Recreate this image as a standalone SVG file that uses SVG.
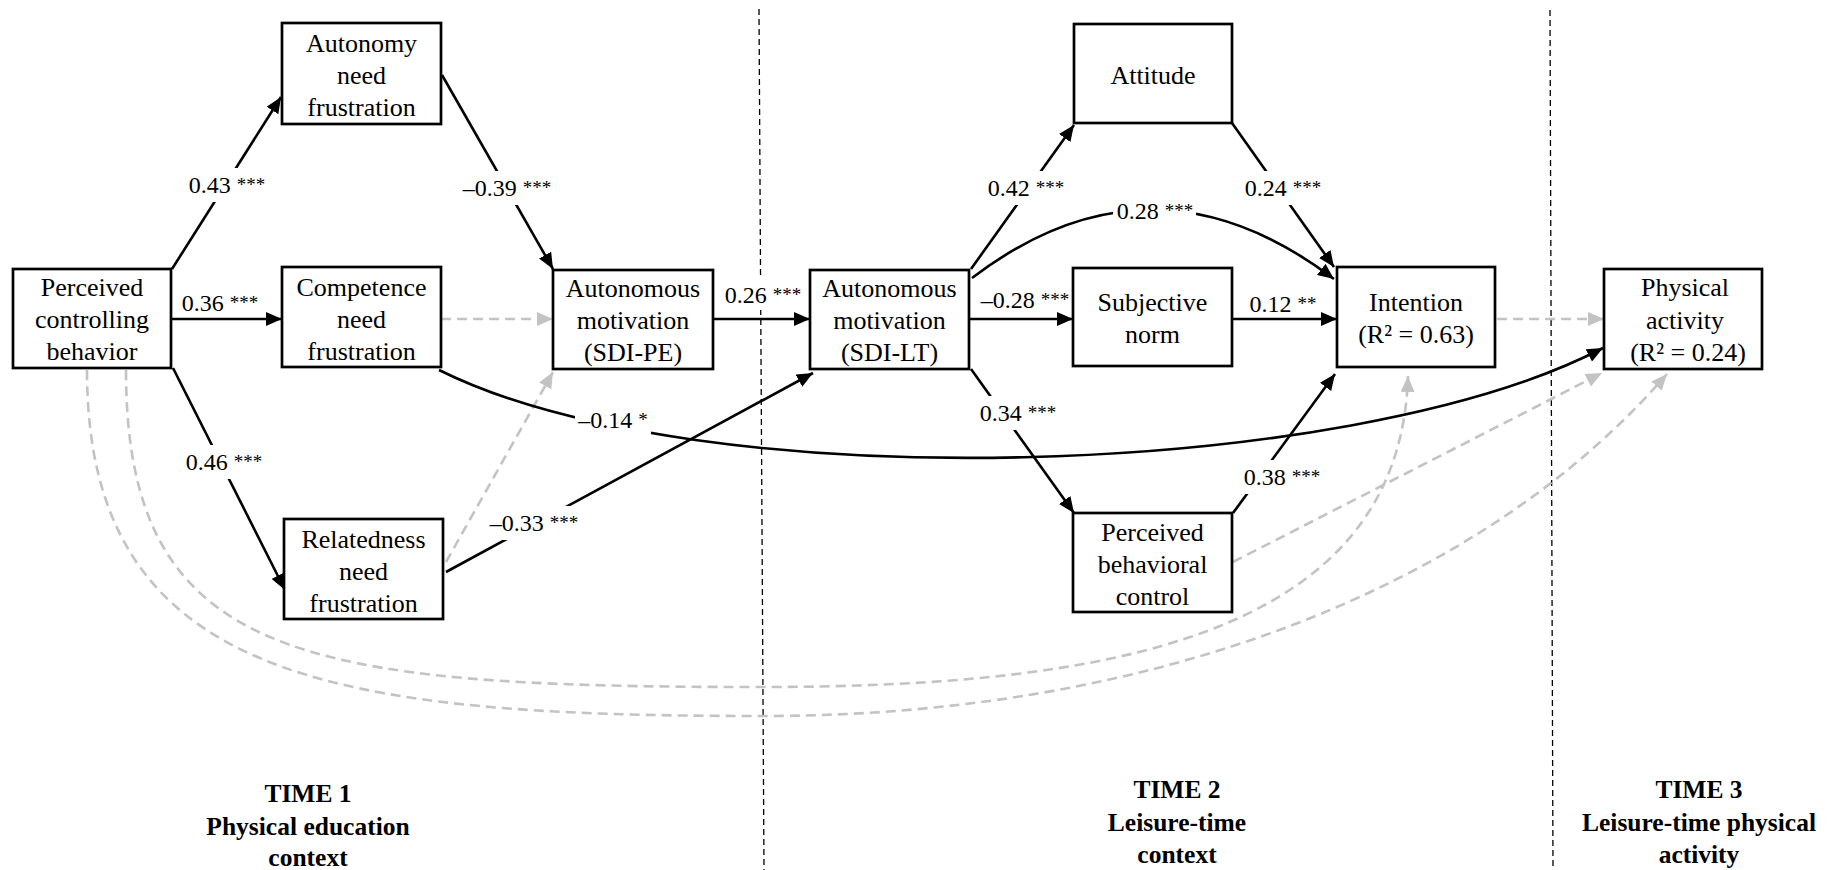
<svg xmlns="http://www.w3.org/2000/svg" width="1836" height="870" viewBox="0 0 1836 870">
<style>
.box{fill:#fff;stroke:#000;stroke-width:2.7}
.nt{font-family:"Liberation Serif",serif;font-size:26px;text-anchor:middle;fill:#000}
.lb{font-family:"Liberation Serif",serif;font-size:24px;text-anchor:middle;fill:#000}
.st{font-size:19px}
.tm{font-family:"Liberation Serif",serif;font-size:25.5px;font-weight:bold;text-anchor:middle;fill:#000}
.ln{fill:none;stroke:#000;stroke-width:2.6;marker-end:url(#ah)}
.gd{fill:none;stroke:#c3c3c3;stroke-width:2.6;stroke-dasharray:10 6;marker-end:url(#ag)}
.sep{fill:none;stroke:#000;stroke-width:1.3;stroke-dasharray:6 4}
.bg{fill:#fff}
</style>
<defs>
<marker id="ah" markerUnits="userSpaceOnUse" markerWidth="18" markerHeight="14" refX="16" refY="7" orient="auto"><path d="M0,0 L16,7 L0,14 z" fill="#000"/></marker>
<marker id="ag" markerUnits="userSpaceOnUse" markerWidth="18" markerHeight="14" refX="16" refY="7" orient="auto"><path d="M0,0 L16,7 L0,14 z" fill="#c3c3c3"/></marker>
</defs>
<rect width="1836" height="870" fill="#fff"/>
<g id="separators">
<line class="sep" x1="759" y1="9" x2="764" y2="870"/>
<line class="sep" x1="1550" y1="10" x2="1553" y2="870"/>
</g>
<g id="connectors">
<path class="gd" d="M126,370 C126,660 300,687 760,687 C1100,687 1400,640 1408,376"/>
<path class="gd" d="M87,370 C87,680 330,716 763,716 C1150,716 1480,590 1667,374"/>
<path class="gd" d="M441,319 L553,319"/>
<path class="gd" d="M446,562 L553,372"/>
<path class="gd" d="M1497,319 L1604,319"/>
<path class="gd" d="M1233,562 L1602,373"/>
<path class="ln" d="M172,269 L281,97"/>
<path class="ln" d="M442,75 L553,269"/>
<path class="ln" d="M172,319 L282,319"/>
<path class="ln" d="M173,368 L285,590"/>
<path class="ln" d="M446,572 L813,373"/>
<path class="ln" d="M714,319 L810,319"/>
<path class="ln" d="M439,370 C700,500 1350,480 1603,348"/>
<path class="ln" d="M971,269 L1074,125"/>
<path class="ln" d="M972,278 Q1152,141 1334,279"/>
<path class="ln" d="M970,319 L1073,319"/>
<path class="ln" d="M971,369 L1074,513"/>
<path class="ln" d="M1232,123 L1334,267"/>
<path class="ln" d="M1232,319 L1337,319"/>
<path class="ln" d="M1233,513 L1335,374"/>
</g>
<g id="labels">
<rect class="bg" x="185" y="168" width="83" height="34"/>
<rect class="bg" x="459" y="171" width="96" height="34"/>
<rect class="bg" x="182" y="445" width="84" height="34"/>
<rect class="bg" x="487" y="506" width="94" height="34"/>
<rect class="bg" x="723" y="276" width="80" height="34"/>
<rect class="bg" x="575" y="403" width="76" height="34"/>
<rect class="bg" x="985" y="171" width="82" height="34"/>
<rect class="bg" x="1113" y="194" width="83" height="34"/>
<rect class="bg" x="977" y="396" width="82" height="34"/>
<rect class="bg" x="1241" y="171" width="85" height="34"/>
<rect class="bg" x="1242" y="460" width="80" height="34"/>
<text class="lb" x="227" y="193">0.43 <tspan class="st" dy="-2">***</tspan></text>
<text class="lb" x="507" y="196">–0.39 <tspan class="st" dy="-2">***</tspan></text>
<text class="lb" x="220" y="311">0.36 <tspan class="st" dy="-2">***</tspan></text>
<text class="lb" x="224" y="470">0.46 <tspan class="st" dy="-2">***</tspan></text>
<text class="lb" x="534" y="531">–0.33 <tspan class="st" dy="-2">***</tspan></text>
<text class="lb" x="763" y="303">0.26 <tspan class="st" dy="-2">***</tspan></text>
<text class="lb" x="613" y="428">–0.14 <tspan class="st" dy="-2">*</tspan></text>
<text class="lb" x="1026" y="196">0.42 <tspan class="st" dy="-2">***</tspan></text>
<text class="lb" x="1155" y="219">0.28 <tspan class="st" dy="-2">***</tspan></text>
<text class="lb" x="1025" y="308">–0.28 <tspan class="st" dy="-2">***</tspan></text>
<text class="lb" x="1018" y="421">0.34 <tspan class="st" dy="-2">***</tspan></text>
<text class="lb" x="1283" y="196">0.24 <tspan class="st" dy="-2">***</tspan></text>
<text class="lb" x="1283" y="312">0.12 <tspan class="st" dy="-2">**</tspan></text>
<text class="lb" x="1282" y="485">0.38 <tspan class="st" dy="-2">***</tspan></text>
</g>
<g id="node-pcb">
<rect class="box" x="13" y="269" width="158" height="99"/>
<text class="nt" x="92" y="296">Perceived</text>
<text class="nt" x="92" y="328">controlling</text>
<text class="nt" x="92" y="360">behavior</text>
</g>
<g id="node-autonomy">
<rect class="box" x="282" y="23" width="159" height="101"/>
<text class="nt" x="361.5" y="52">Autonomy</text>
<text class="nt" x="361.5" y="84">need</text>
<text class="nt" x="361.5" y="116">frustration</text>
</g>
<g id="node-competence">
<rect class="box" x="282" y="267" width="159" height="100"/>
<text class="nt" x="361.5" y="296">Competence</text>
<text class="nt" x="361.5" y="328">need</text>
<text class="nt" x="361.5" y="360">frustration</text>
</g>
<g id="node-relatedness">
<rect class="box" x="284" y="519" width="159" height="100"/>
<text class="nt" x="363.5" y="548">Relatedness</text>
<text class="nt" x="363.5" y="580">need</text>
<text class="nt" x="363.5" y="612">frustration</text>
</g>
<g id="node-sdi-pe">
<rect class="box" x="553" y="270" width="160" height="99"/>
<text class="nt" x="633" y="297">Autonomous</text>
<text class="nt" x="633" y="329">motivation</text>
<text class="nt" x="633" y="361">(SDI-PE)</text>
</g>
<g id="node-sdi-lt">
<rect class="box" x="810" y="270" width="159" height="99"/>
<text class="nt" x="889.5" y="297">Autonomous</text>
<text class="nt" x="889.5" y="329">motivation</text>
<text class="nt" x="889.5" y="361">(SDI-LT)</text>
</g>
<g id="node-attitude">
<rect class="box" x="1074" y="24" width="158" height="99"/>
<text class="nt" x="1153" y="84">Attitude</text>
</g>
<g id="node-norm">
<rect class="box" x="1073" y="268" width="159" height="98"/>
<text class="nt" x="1152.5" y="311">Subjective</text>
<text class="nt" x="1152.5" y="343">norm</text>
</g>
<g id="node-pbc">
<rect class="box" x="1073" y="513" width="159" height="99"/>
<text class="nt" x="1152.5" y="541">Perceived</text>
<text class="nt" x="1152.5" y="573">behavioral</text>
<text class="nt" x="1152.5" y="605">control</text>
</g>
<g id="node-intention">
<rect class="box" x="1337" y="267" width="158" height="100"/>
<text class="nt" x="1416" y="311">Intention</text>
<text class="nt" x="1416" y="343">(R² = 0.63)</text>
</g>
<g id="node-pa">
<rect class="box" x="1604" y="269" width="158" height="100"/>
<text class="nt" x="1685" y="296">Physical</text>
<text class="nt" x="1685" y="329">activity</text>
<text class="nt" x="1688" y="361">(R² = 0.24)</text>
</g>
<g id="time-labels">
<text class="tm" x="308" y="802">TIME 1</text>
<text class="tm" x="308" y="835">Physical education</text>
<text class="tm" x="308" y="866">context</text>
<text class="tm" x="1177" y="798">TIME 2</text>
<text class="tm" x="1177" y="831">Leisure-time</text>
<text class="tm" x="1177" y="863">context</text>
<text class="tm" x="1699" y="798">TIME 3</text>
<text class="tm" x="1699" y="831">Leisure-time physical</text>
<text class="tm" x="1699" y="863">activity</text>
</g>
</svg>
